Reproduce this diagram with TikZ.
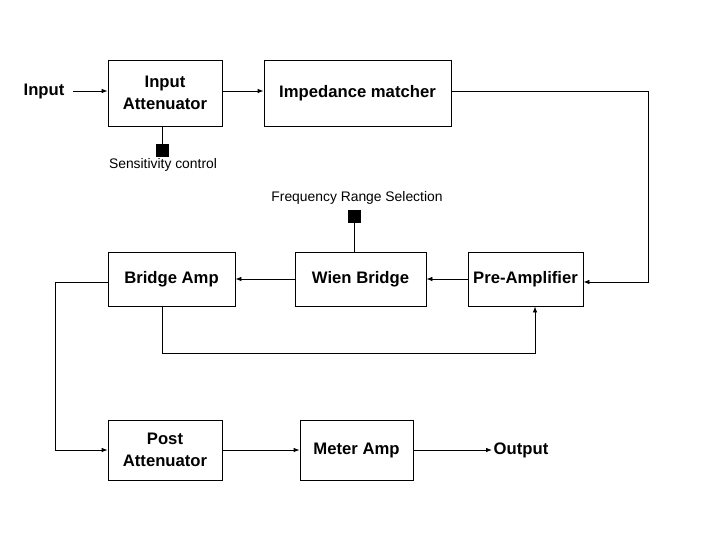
\documentclass[tikz,border=0pt]{standalone}
\usepackage{fontspec}
\setmainfont{Liberation Sans}
\usetikzlibrary{arrows.meta}

\begin{document}
\begin{tikzpicture}[x=0.75pt, y=-0.75pt, line width=0.6pt,
    block/.style={draw, inner sep=0pt, align=center, font=\fontsize{12.5}{16}\selectfont\bfseries},
    knob/.style={fill=black, inner sep=0pt, minimum size=9.75pt},
    note/.style={inner sep=1pt, font=\fontsize{10.4}{12}\selectfont},
    >={Latex[length=4.5pt,width=3.4pt]}]

    \useasboundingbox (0,0) rectangle (720,540);  % Page frame

    % Top row
    \node[note, font=\fontsize{12.5}{16}\selectfont\bfseries] (in) at (44, 91) {Input};
    \node[block, minimum width=85.5pt,  minimum height=49.5pt] (attIn) at (165, 93)   {Input\\Attenuator};
    \node[block, minimum width=140.25pt, minimum height=49.5pt] (imp)  at (357.5, 93) {\raisebox{-2pt}{Impedance matcher}};

    % Sensitivity control
    \node[knob] (sens) at (162.5, 150.5) {};
    \node[note] (senslbl) at (163, 165) {Sensitivity control};

    % Middle row
    \node[block, minimum width=95.25pt, minimum height=40.5pt] (bamp) at (171.5, 279) {Bridge Amp};
    \node[block, minimum width=98.25pt, minimum height=40.5pt] (wien) at (360.5, 279) {Wien Bridge};
    \node[block, minimum width=86.25pt, minimum height=40.5pt] (pre)  at (525.5, 279) {Pre-Amplifier};

    % Frequency range selection
    \node[knob] (freq) at (354.5, 216.5) {};
    \node[note] (freqlbl) at (357, 198) {Frequency Range Selection};

    % Bottom row
    \node[block, minimum width=85.5pt,  minimum height=45pt] (post)  at (165, 450)   {Post\\Attenuator};
    \node[block, minimum width=84.75pt, minimum height=45pt] (meter) at (356.5, 450) {\raisebox{-2pt}{Meter Amp}};
    \node[note, anchor=west, font=\fontsize{12.5}{16}\selectfont\bfseries] (out) at (492, 450) {Output};

    % Corner points of the long lines
    \coordinate (rt)  at (648, 282);
    \coordinate (lf)  at (55, 450);
    \coordinate (fbl) at (162, 353);
    \coordinate (fbr) at (535, 353);

    % Signal path
    \draw[->] ([xshift=5pt]in.east) -- (in -| attIn.west);
    \draw[->] (attIn.east |- in) -- (imp.west |- in);
    \draw[->] (imp.east |- in) -| (rt) -- (rt -| pre.east);
    \draw[->] (pre.west) -- (wien.east);
    \draw[->] (wien.west) -- (bamp.east);
    \draw[->] ([yshift=-2.25pt]bamp.west) -| (lf) -- (post.west);
    \draw[->] (fbl |- bamp.south) -- (fbl) -- (fbr) -- (fbr |- pre.south);
    \draw[->] (post.east) -- (meter.west);
    \draw[->] (meter.east) -- (out.west);

    % Control stems
    \draw (sens.north) -- (sens.north |- attIn.south);
    \draw (freq.south) -- (freq.south |- wien.north);
\end{tikzpicture}
\end{document}
